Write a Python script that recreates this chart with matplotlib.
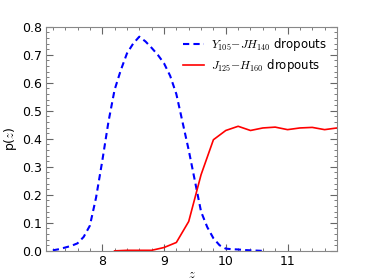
import matplotlib
matplotlib.use("Agg")
import matplotlib.pyplot as plt
from matplotlib.ticker import MultipleLocator

plt.rcParams['mathtext.fontset'] = 'cm'

z_y = [7.2, 7.3, 7.4, 7.5, 7.6, 7.7, 7.8, 7.9, 8.0, 8.1, 8.2, 8.3, 8.4, 8.5, 8.6,
       8.7, 8.8, 8.9, 9.0, 9.1, 9.2, 9.3, 9.4, 9.5, 9.6, 9.7, 9.8, 9.9, 10.0,
       10.1, 10.2, 10.3, 10.4, 10.5, 10.6]
p_y = [0.002, 0.006, 0.012, 0.018, 0.027, 0.05, 0.09, 0.19, 0.32, 0.46, 0.575,
       0.645, 0.705, 0.74, 0.765, 0.748, 0.725, 0.7, 0.67, 0.625, 0.56, 0.46,
       0.36, 0.25, 0.14, 0.085, 0.045, 0.02, 0.008, 0.006, 0.005, 0.003, 0.002,
       0.001, 0.0]

z_j = [8.2, 8.4, 8.6, 8.8, 9.0, 9.2, 9.4, 9.6, 9.8, 10.0, 10.2, 10.4, 10.6,
       10.8, 11.0, 11.2, 11.4, 11.6, 11.8]
p_j = [0.0, 0.002, 0.002, 0.002, 0.012, 0.03, 0.105, 0.272, 0.397, 0.43,
       0.445, 0.43, 0.439, 0.442, 0.433, 0.439, 0.441, 0.433, 0.439]

fig = plt.figure(figsize=(3.74, 2.8), dpi=100)
ax = fig.add_axes([0.123, 0.104, 0.778, 0.8])

ax.plot(z_y, p_y, '--', color='blue', lw=1.5, dashes=(3, 2),
        label=r'$Y_{105}$$-$$JH_{140}$ dropouts')
ax.plot(z_j, p_j, '-', color='red', lw=1.2,
        label=r'$J_{125}$$-$$H_{160}$ dropouts')

ax.set_xlim(7.09, 11.8)
ax.set_ylim(0, 0.8)
ax.xaxis.set_major_locator(MultipleLocator(1))
ax.xaxis.set_minor_locator(MultipleLocator(0.2))
ax.yaxis.set_major_locator(MultipleLocator(0.1))
ax.yaxis.set_minor_locator(MultipleLocator(0.02))
ax.tick_params(which='both', direction='in', top=True, right=True,
               color='#666666', labelsize=9, pad=3)
ax.tick_params(which='major', length=5)
ax.tick_params(which='minor', length=2.5)
for s in ax.spines.values():
    s.set_color('#888888')

ax.set_xlabel(r'$z$', fontsize=9, labelpad=0)
ax.set_ylabel(r'p($z$)', fontsize=9, labelpad=2)
ax.legend(loc='upper right', frameon=False, fontsize=8.5, handlelength=1.8,
          handletextpad=0.6, borderaxespad=0.4, labelspacing=0.35)

fig.savefig('out.png', dpi=100)
